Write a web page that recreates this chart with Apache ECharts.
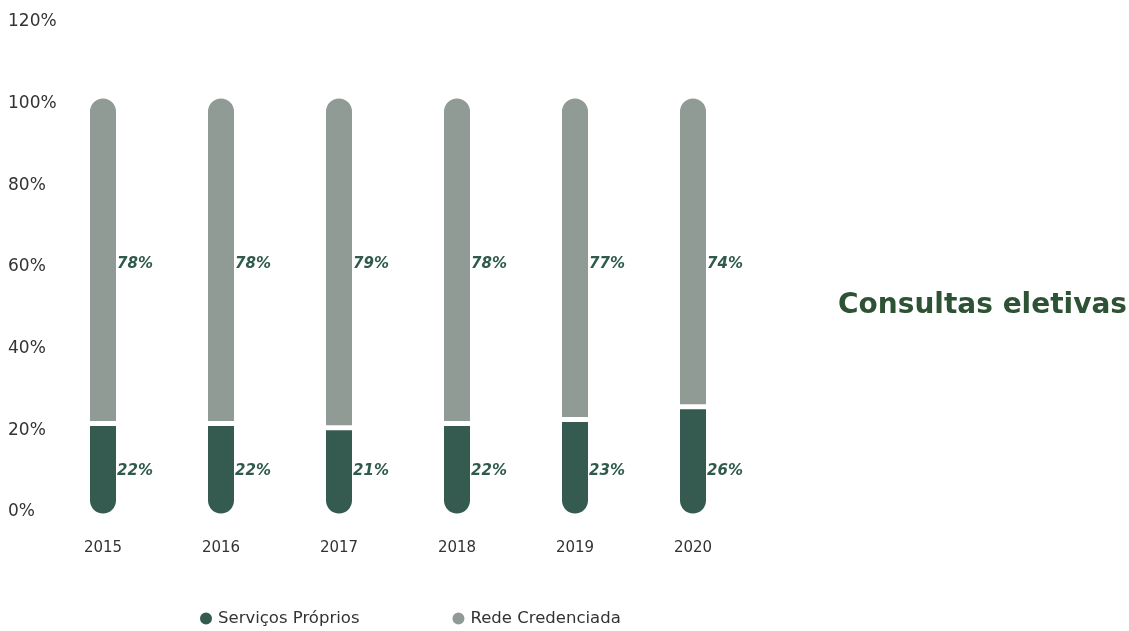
<!DOCTYPE html>
<html>
<head>
<meta charset="utf-8">
<script src="https://cdn.jsdelivr.net/npm/echarts@6/dist/echarts.min.js"></script>
<style>html,body{margin:0;padding:0;background:#fff;}#c{width:1129px;height:631px;}</style>
</head>
<body>
<div id="c"></div>
<script>
const years = ['2015', '2016', '2017', '2018', '2019', '2020'];
const servicosProprios = [22, 22, 21, 22, 23, 26];
const redeCredenciada = [78, 78, 79, 78, 77, 74];
const seriesNames = ['Serviços Próprios', 'Rede Credenciada'];
const titleText = 'Consultas eletivas';

const chart = echarts.init(document.getElementById('c'));
const labelStyle = {
  show: true,
  formatter: '{c}%',
  color: '#2f5a4c',
  fontFamily: 'DejaVu Sans',
  fontWeight: 'bold',
  fontStyle: 'italic',
  fontSize: 15,
  offset: [32, 0]
};
chart.setOption({
  animation: false,
  title: {
    text: titleText,
    right: -3,
    top: 287,
    textStyle: { color: '#2e5234', fontFamily: 'DejaVu Sans', fontWeight: 'bold', fontSize: 28 }
  },
  legend: {
    left: 193,
    top: 605,
    itemWidth: 14,
    itemHeight: 14,
    itemGap: 91,
    icon: 'circle',
    textStyle: { color: '#333', fontFamily: 'DejaVu Sans', fontSize: 16.5 },
    data: seriesNames
  },
  grid: [
    { left: 44, right: 377, top: 22, bottom: 119 },
    { left: 44, right: 377, top: 12, bottom: 115 }
  ],
  xAxis: [
    {
      type: 'category',
      gridIndex: 0,
      data: years,
      axisLine: { show: false },
      axisTick: { show: false },
      axisLabel: { margin: 29, color: '#333', fontFamily: 'DejaVu Sans', fontSize: 15 }
    },
    {
      type: 'category',
      gridIndex: 1,
      data: years,
      show: false
    }
  ],
  yAxis: [
    {
      type: 'value',
      gridIndex: 0,
      min: 0, max: 120, interval: 20,
      splitLine: { show: false },
      axisLine: { show: false },
      axisTick: { show: false },
      axisLabel: { formatter: '{value}%', align: 'left', margin: 36, color: '#333', fontFamily: 'DejaVu Sans', fontSize: 17 }
    },
    {
      type: 'value',
      gridIndex: 1,
      min: 0, max: 120, interval: 20,
      show: false
    }
  ],
  series: [
    {
      name: seriesNames[0],
      type: 'bar',
      xAxisIndex: 1,
      yAxisIndex: 1,
      stack: 'total',
      barWidth: 31,
      data: servicosProprios,
      itemStyle: { color: '#355a50', borderColor: '#fff', borderWidth: 2.5, borderRadius: [0, 0, 15, 15] },
      label: Object.assign({}, labelStyle, { position: 'insideBottom', distance: 37 })
    },
    {
      name: seriesNames[1],
      type: 'bar',
      xAxisIndex: 1,
      yAxisIndex: 1,
      stack: 'total',
      barWidth: 31,
      data: redeCredenciada,
      itemStyle: { color: '#8f9b94', borderColor: '#fff', borderWidth: 2.5, borderRadius: [15, 15, 0, 0] },
      label: Object.assign({}, labelStyle, { position: 'insideTop', distance: 161 })
    }
  ]
});
</script>
</body>
</html>
